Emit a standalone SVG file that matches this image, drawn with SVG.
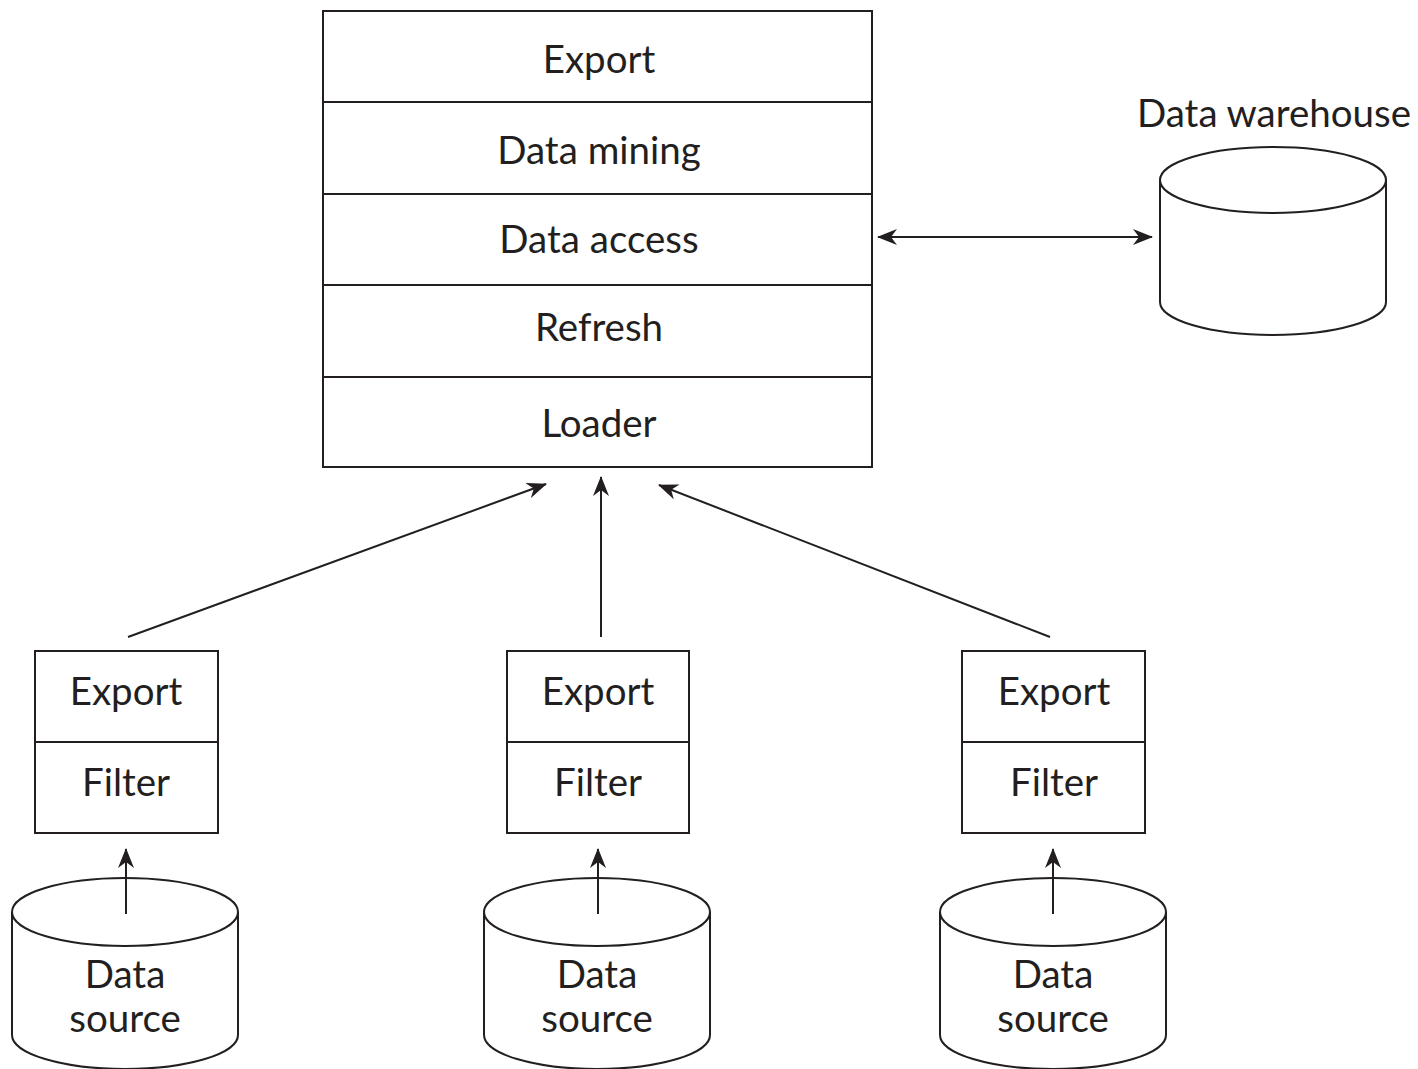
<svg xmlns="http://www.w3.org/2000/svg" width="1418" height="1069" viewBox="0 0 1418 1069">
<defs>
<style>
.box{fill:#fff;stroke:#231f20;stroke-width:2}
.ln{fill:none;stroke:#231f20;stroke-width:2}
.t{font-family:Lato,"Open Sans","Liberation Sans",sans-serif;font-size:38.5px;fill:#231f20;text-anchor:middle}
.cyl{fill:#fff;stroke:#231f20;stroke-width:2}
</style>
<marker id="ah" viewBox="0 0 20 16" refX="19" refY="8" markerWidth="20" markerHeight="16" markerUnits="userSpaceOnUse" orient="auto-start-reverse">
<path d="M0,0 L20,8 L0,16 L6,8 Z" fill="#231f20"/>
</marker>
</defs>
<rect width="1418" height="1069" fill="#fff"/>
<g id="main-stack">
<rect class="box" x="323" y="11" width="549" height="456"/>
<line class="ln" x1="323" y1="102" x2="872" y2="102"/>
<line class="ln" x1="323" y1="194" x2="872" y2="194"/>
<line class="ln" x1="323" y1="285" x2="872" y2="285"/>
<line class="ln" x1="323" y1="377" x2="872" y2="377"/>
<text class="t" x="599" y="73">Export</text>
<text class="t" x="599" y="164">Data mining</text>
<text class="t" x="599" y="253">Data access</text>
<text class="t" x="599" y="341">Refresh</text>
<text class="t" x="599" y="437">Loader</text>
</g>
<g id="warehouse">
<text class="t" x="1274" y="127">Data warehouse</text>
<path class="cyl" d="M1160,180 L1160,302 A113,33 0 0 0 1386,302 L1386,180"/>
<ellipse class="cyl" cx="1273" cy="180" rx="113" ry="33"/>
</g>
<g id="src1">
<rect class="box" x="35" y="651" width="183" height="182"/>
<line class="ln" x1="35" y1="742" x2="218" y2="742"/>
<text class="t" x="126" y="705">Export</text>
<text class="t" x="126" y="796">Filter</text>
<path class="cyl" d="M12,912 L12,1035 A113,34 0 0 0 238,1035 L238,912"/>
<ellipse class="cyl" cx="125" cy="912" rx="113" ry="34"/>
<text class="t" x="125" y="988">Data</text>
<text class="t" x="125" y="1032">source</text>
</g>
<g id="src2">
<rect class="box" x="507" y="651" width="182" height="182"/>
<line class="ln" x1="507" y1="742" x2="689" y2="742"/>
<text class="t" x="598" y="705">Export</text>
<text class="t" x="598" y="796">Filter</text>
<path class="cyl" d="M484,912 L484,1035 A113,34 0 0 0 710,1035 L710,912"/>
<ellipse class="cyl" cx="597" cy="912" rx="113" ry="34"/>
<text class="t" x="597" y="988">Data</text>
<text class="t" x="597" y="1032">source</text>
</g>
<g id="src3">
<rect class="box" x="962" y="651" width="183" height="182"/>
<line class="ln" x1="962" y1="742" x2="1145" y2="742"/>
<text class="t" x="1054" y="705">Export</text>
<text class="t" x="1054" y="796">Filter</text>
<path class="cyl" d="M940,912 L940,1035 A113,34 0 0 0 1166,1035 L1166,912"/>
<ellipse class="cyl" cx="1053" cy="912" rx="113" ry="34"/>
<text class="t" x="1053" y="988">Data</text>
<text class="t" x="1053" y="1032">source</text>
</g>
<g id="connectors">
<line class="ln" x1="878" y1="237" x2="1152" y2="237" marker-start="url(#ah)" marker-end="url(#ah)"/>
<line class="ln" x1="128" y1="637" x2="546" y2="484" marker-end="url(#ah)"/>
<line class="ln" x1="601" y1="637" x2="601" y2="477" marker-end="url(#ah)"/>
<line class="ln" x1="1050" y1="637" x2="659" y2="485" marker-end="url(#ah)"/>
<line class="ln" x1="126" y1="914" x2="126" y2="849" marker-end="url(#ah)"/>
<line class="ln" x1="598" y1="914" x2="598" y2="849" marker-end="url(#ah)"/>
<line class="ln" x1="1053" y1="914" x2="1053" y2="849" marker-end="url(#ah)"/>
</g>
</svg>
